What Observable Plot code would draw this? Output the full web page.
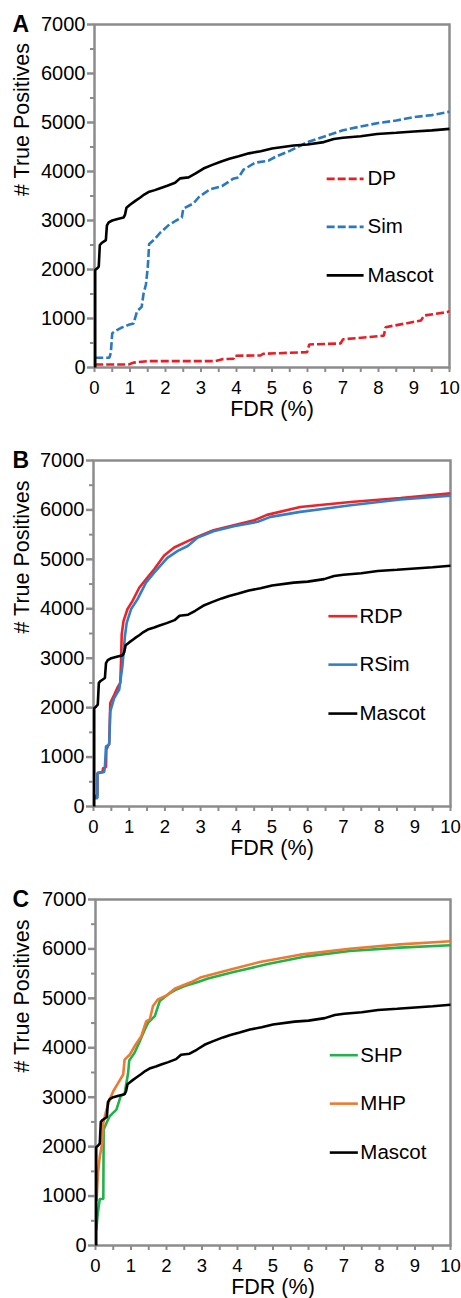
<!DOCTYPE html>
<html>
<head>
<meta charset="utf-8">
<script src="https://cdn.jsdelivr.net/npm/d3@7"></script>
<script src="https://cdn.jsdelivr.net/npm/@observablehq/plot@0.6"></script>
<style>
  html, body { margin: 0; padding: 0; background: #fff; }
  #wrap { position: relative; width: 461px; height: 1298px; overflow: hidden; }
  .panel { position: absolute; left: 0; }
</style>
</head>
<body>
<div id="wrap"></div>
<script>
// ---------------- DATA ----------------
const xTickLabels = [0, 1, 2, 3, 4, 5, 6, 7, 8, 9, 10];
const xMinorTicks = [0.5, 1.5, 2.5, 3.5, 4.5, 5.5, 6.5, 7.5, 8.5, 9.5];
const yTickLabels = [0, 1000, 2000, 3000, 4000, 5000, 6000, 7000];
const yMinorTicks = [500, 1500, 2500, 3500, 4500, 5500, 6500];

const mascotFdr = [0.02, 0.02, 0.07, 0.12, 0.15, 0.2, 0.28, 0.32, 0.35, 0.4, 0.5, 0.65, 0.82, 0.86, 0.9, 1.0, 1.15, 1.29, 1.4, 1.52, 1.7, 1.85, 2.05, 2.27, 2.41, 2.65, 2.85, 3.07, 3.3, 3.59, 3.8, 4.06, 4.35, 4.68, 5.0, 5.61, 6.0, 6.46, 6.74, 7.0, 7.5, 7.96, 8.5, 9.0, 9.5, 10];
const mascotTp  = [0, 1990, 2020, 2060, 2500, 2540, 2580, 2600, 2900, 2960, 3000, 3030, 3060, 3120, 3260, 3320, 3400, 3470, 3530, 3580, 3620, 3660, 3710, 3770, 3860, 3880, 3960, 4060, 4130, 4210, 4260, 4310, 4370, 4415, 4470, 4530, 4550, 4600, 4665, 4690, 4720, 4765, 4790, 4815, 4840, 4870];

const dpFdr = [0.02, 0.96, 1.1, 1.52, 3.4, 3.6, 3.92, 3.95, 4.68, 4.75, 5.99, 6.05, 6.93, 7.0, 8.15, 8.2, 8.81, 9.2, 9.28, 9.93, 10];
const dpTp  = [60, 60, 100, 130, 130, 170, 180, 240, 245, 280, 313, 470, 490, 575, 650, 823, 905, 960, 1060, 1130, 1150];

const simFdr = [0.02, 0.42, 0.46, 0.5, 0.6, 0.75, 0.96, 1.1, 1.2, 1.33, 1.38, 1.45, 1.5, 1.54, 1.7, 1.85, 2.08, 2.3, 2.46, 2.5, 2.79, 2.93, 3.1, 3.26, 3.59, 3.9, 4.06, 4.2, 4.53, 4.9, 5.1, 5.5, 6.0, 6.5, 7.0, 7.5, 8.0, 8.5, 9.0, 9.5, 10];
const simTp  = [200, 200, 300, 700, 750, 810, 870, 900, 1150, 1240, 1500, 1700, 2040, 2520, 2620, 2750, 2900, 3000, 3060, 3240, 3350, 3470, 3560, 3640, 3700, 3850, 3880, 4040, 4180, 4220, 4300, 4420, 4600, 4720, 4840, 4920, 4990, 5040, 5110, 5150, 5220];

const rdpFdr = [0.04, 0.11, 0.11, 0.25, 0.27, 0.35, 0.36, 0.44, 0.47, 0.58, 0.69, 0.75, 0.77, 0.79, 0.84, 0.95, 1.09, 1.28, 1.51, 1.7, 1.98, 2.26, 2.64, 2.92, 3.36, 3.93, 4.5, 4.86, 5.79, 7.2, 8.6, 10];
const rdpTp  = [200, 230, 675, 700, 777, 800, 1150, 1280, 2095, 2260, 2430, 2500, 2900, 3480, 3750, 3990, 4155, 4425, 4630, 4800, 5080, 5240, 5370, 5460, 5588, 5690, 5790, 5900, 6060, 6161, 6242, 6335];

const rsimFdr = [0.04, 0.11, 0.11, 0.3, 0.32, 0.35, 0.44, 0.47, 0.58, 0.72, 0.81, 0.88, 0.93, 1.05, 1.23, 1.47, 1.7, 2.07, 2.36, 2.64, 2.92, 3.36, 3.93, 4.6, 4.96, 5.79, 7.2, 8.6, 10];
const rsimTp  = [170, 170, 675, 700, 810, 1215, 1250, 1925, 2195, 2365, 2840, 3445, 3716, 3990, 4190, 4530, 4730, 5030, 5170, 5270, 5440, 5570, 5670, 5760, 5860, 5960, 6094, 6210, 6290];

const shpFdr = [0.02, 0.06, 0.12, 0.22, 0.23, 0.31, 0.4, 0.59, 0.71, 0.82, 0.92, 0.95, 1.1, 1.25, 1.39, 1.48, 1.67, 1.81, 2.04, 2.28, 2.51, 2.89, 3.17, 3.89, 4.82, 5.95, 7.16, 8.57, 10];
const shpTp  = [300, 620, 940, 940, 2345, 2480, 2615, 2750, 3020, 3075, 3495, 3745, 3900, 4135, 4370, 4505, 4640, 4945, 5080, 5180, 5250, 5330, 5400, 5533, 5688, 5850, 5957, 6026, 6075];

const mhpFdr = [0.03, 0.07, 0.12, 0.19, 0.22, 0.31, 0.4, 0.5, 0.64, 0.78, 0.82, 0.97, 1.1, 1.29, 1.43, 1.53, 1.62, 1.76, 2.0, 2.23, 2.42, 2.7, 2.95, 3.89, 4.63, 5.76, 7.16, 8.57, 10];
const mhpTp  = [900, 1465, 1800, 2075, 2480, 2750, 2950, 3120, 3290, 3460, 3760, 3865, 4030, 4236, 4540, 4575, 4845, 4980, 5060, 5195, 5250, 5330, 5420, 5600, 5735, 5884, 6005, 6093, 6155];

const panelLetters = ["A", "B", "C"];
const legendNames = [["DP", "Sim", "Mascot"], ["RDP", "RSim", "Mascot"], ["SHP", "MHP", "Mascot"]];
const legendTp = [3850, 2870, 1880];

// ---------------- BUILD ----------------
const zip = (xs, ys) => xs.map((x, i) => ({fdr: x, tp: ys[i]}));
const FONT = "'Liberation Sans', Arial, Helvetica, sans-serif";
const AXIS_GRAY = "#8c8c8c";

const panels = [
  {
    top: 0, height: 433, marginTop: 24, marginBottom: 66, marginLeft: 94, marginRight: 12,
    legendX: [6.54, 7.58, 7.69],
    series: [
      {name: "DP", data: zip(dpFdr, dpTp), color: "#ec1c24", dash: "8,3"},
      {name: "Sim", data: zip(simFdr, simTp), color: "#2878c2", dash: "8,3"},
      {name: "Mascot", data: zip(mascotFdr, mascotTp), color: "#000000", dash: null}
    ]
  },
  {
    top: 433, height: 433, marginTop: 27, marginBottom: 60, marginLeft: 93, marginRight: 11,
    legendX: [6.58, 7.39, 7.45],
    series: [
      {name: "RDP", data: zip(rdpFdr, rdpTp), color: "#ee2229", dash: null},
      {name: "RSim", data: zip(rsimFdr, rsimTp), color: "#2f80c8", dash: null},
      {name: "Mascot", data: zip(mascotFdr, mascotTp), color: "#000000", dash: null}
    ]
  },
  {
    top: 866, height: 432, marginTop: 33, marginBottom: 53, marginLeft: 95, marginRight: 11,
    legendX: [6.6, 7.39, 7.46],
    series: [
      {name: "SHP", data: zip(shpFdr, shpTp), color: "#22b24c", dash: null},
      {name: "MHP", data: zip(mhpFdr, mhpTp), color: "#ee7a30", dash: null},
      {name: "Mascot", data: zip(mascotFdr, mascotTp), color: "#000000", dash: null}
    ]
  }
];

const wrap = document.getElementById("wrap");

panels.forEach((p, pi) => {
  const legend = p.series.map((s, i) => ({
    name: legendNames[pi][i], color: s.color, dash: s.dash,
    x1: p.legendX[0], x2: p.legendX[1], xt: p.legendX[2], y: legendTp[i]
  }));

  const marks = [
    Plot.frame({stroke: AXIS_GRAY, strokeWidth: 2.5}),
    Plot.axisY(yTickLabels, {tickSize: 7, tickPadding: 2, stroke: AXIS_GRAY, strokeWidth: 2.5, fontSize: 20, fill: "#000", tickFormat: d => String(d), label: null}),
    Plot.axisY(yMinorTicks, {tickSize: 4, stroke: AXIS_GRAY, strokeWidth: 2, tickFormat: () => "", label: null}),
    Plot.axisX(xTickLabels, {tickSize: 5, tickPadding: 8, stroke: AXIS_GRAY, strokeWidth: 2, fontSize: 18.5, fill: "#000", tickFormat: d => String(d), label: null}),
    Plot.axisX(xMinorTicks, {tickSize: 5, stroke: AXIS_GRAY, strokeWidth: 2, tickFormat: () => "", label: null}),
    ...p.series.map(s => Plot.line(s.data, {
      x: "fdr", y: "tp", stroke: s.color, strokeWidth: 2.6,
      strokeDasharray: s.dash || undefined, strokeLinejoin: "miter", strokeLinecap: "butt"
    })),
    ...legend.map(l => Plot.link([l], {
      x1: "x1", x2: "x2", y1: "y", y2: "y", stroke: l.color, strokeWidth: 2.6,
      strokeDasharray: l.dash || undefined
    })),
    Plot.text(legend, {x: "xt", y: "y", text: "name", textAnchor: "start", fontSize: 20.5, fill: "#000"}),
    Plot.text(["FDR (%)"], {frameAnchor: "bottom", dy: 42, fontSize: 21.5, fill: "#000", lineAnchor: "middle"}),
    Plot.text(["# True Positives"], {frameAnchor: "left", rotate: -90, dx: 22 - p.marginLeft, fontSize: 21.5, fill: "#000", lineAnchor: "middle"}),
    Plot.text([panelLetters[pi]], {frameAnchor: "top-left", dx: 12 - p.marginLeft, dy: 0, fontSize: 23, fontWeight: "bold", fill: "#000", textAnchor: "start", lineAnchor: "middle"})
  ];

  const chart = Plot.plot({
    width: 461,
    height: p.height,
    marginTop: p.marginTop,
    marginBottom: p.marginBottom,
    marginLeft: p.marginLeft,
    marginRight: p.marginRight,
    x: {domain: [0, 10]},
    y: {domain: [0, 7000]},
    style: {fontFamily: FONT, fontSize: "20px", color: "#000", background: "transparent", overflow: "visible"},
    marks
  });

  const div = document.createElement("div");
  div.className = "panel";
  div.style.top = p.top + "px";
  div.appendChild(chart);
  wrap.appendChild(div);
});
</script>
</body>
</html>
